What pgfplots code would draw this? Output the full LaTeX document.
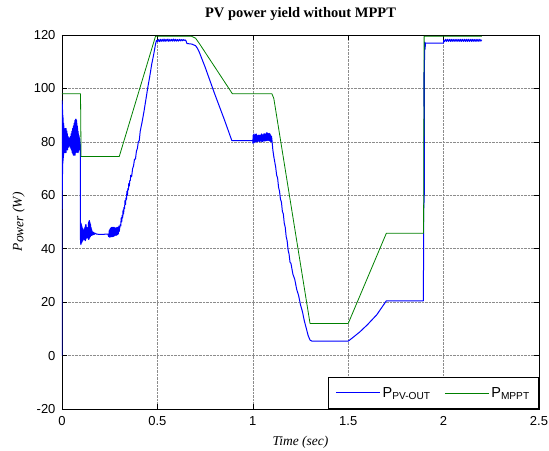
\documentclass[border=0pt]{standalone}
\usepackage{fontspec}
\setmainfont{Liberation Serif}
\newfontfamily\arial{Liberation Sans}
\usepackage{pgfplots}
\pgfplotsset{compat=1.18}
\definecolor{mgreen}{rgb}{0,0.5,0}
\begin{document}
\begin{tikzpicture}
\useasboundingbox (-62bp,-42bp) rectangle (487bp,409bp);
\begin{axis}[
  scale only axis,
  width=477bp, height=374bp,
  xmin=0, xmax=2.5, ymin=-20, ymax=120,
  xtick={0,0.5,1,1.5,2,2.5},
  ytick={-20,0,20,40,60,80,100,120},
  xticklabels={0,0.5,1,1.5,2,2.5},
  tick align=inside,
  major tick length=5bp,
  tick style={black, line width=0.5bp},
  axis line style={black, line width=0.6bp},
  grid=major,
  major grid style={densely dotted, black!45, line width=0.6bp},
  /pgf/number format/assume math mode=true,
  tick label style={font=\fontsize{13bp}{15bp}\arial},
  yticklabel style={xshift=-3bp},
  xticklabel style={yshift=-4bp},
  title={\textbf{PV power yield without MPPT}},
  title style={font=\fontsize{14.5bp}{16bp}\selectfont, at={(axis description cs:0.5,1.032)}, anchor=base},
  xlabel={\textit{Time (sec)}},
  xlabel style={font=\fontsize{13.5bp}{15bp}\selectfont, at={(axis description cs:0.5,-0.0963)}, anchor=base},
  ylabel={\textit{P\kern0.6bp\raisebox{-1.5bp}{ower} (W)}},
  ylabel style={font=\fontsize{13.5bp}{15bp}\selectfont, at={(axis description cs:-0.0839,0.5)}, anchor=base},
  legend columns=2,
  legend cell align=left,
  legend image code/.code={\draw[#1] (0bp,0bp) -- (44bp,0bp);},
  legend style={at={(rel axis cs:1,0)}, anchor=south east, draw=black, fill=white,
    font=\fontsize{14.5bp}{16bp}\arial, line width=0.6bp, inner xsep=7bp, inner ysep=8bp,
    /tikz/every even column/.append style={column sep=12bp}},
]
\addplot[blue, line width=1bp, line join=round] coordinates {
(0,0) (0,95.5) (0.0008,55) (0.0015,94) (0.0022,62) (0.003,92) (0.0038,68) (0.0045,90)
(0.0052,72) (0.006,89) (0.007,74) (0.008,87) (0.009,75) (0.010,86) (0.011,77) (0.012,85)
(0.013,76) (0.014,84) (0.015,78) (0.016,83) (0.017,76) (0.018,85) (0.019,77) (0.020,84)
(0.021,76) (0.022,85) (0.023,77) (0.024,84) (0.025,78) (0.026,84) (0.027,77) (0.028,83)
(0.029,77) (0.030,82) (0.031,78) (0.032,82) (0.033,78) (0.034,81) (0.035,78) (0.036,81.5)
(0.037,78.5) (0.038,81.5) (0.039,79) (0.040,81) (0.041,78.5) (0.042,81) (0.043,78) (0.044,82)
(0.045,78) (0.046,82) (0.047,77.5) (0.048,83) (0.049,77) (0.050,83) (0.051,77) (0.052,84)
(0.053,76) (0.054,84) (0.055,76) (0.056,85) (0.057,75.5) (0.058,85) (0.059,75) (0.060,86)
(0.061,75) (0.062,86) (0.063,75.5) (0.064,87) (0.065,75) (0.066,87) (0.067,75) (0.068,88)
(0.069,75) (0.070,88) (0.071,76) (0.072,88.5) (0.073,76) (0.074,88.5) (0.075,77) (0.076,88)
(0.077,76.5) (0.078,87) (0.079,76) (0.080,86) (0.081,76.5) (0.082,85) (0.083,77) (0.084,84)
(0.085,76) (0.086,83) (0.087,76.5) (0.088,82.5) (0.089,77) (0.090,82) (0.091,77) (0.092,81.5)
(0.093,77.5) (0.094,81) (0.095,78) (0.096,79)
(0.097,42) (0.098,50) (0.099,41.5) (0.100,49.5) (0.101,42) (0.102,49) (0.103,42.5) (0.104,48.5)
(0.105,42.5) (0.106,48) (0.107,43) (0.108,47.5) (0.109,43) (0.110,47.5) (0.111,43.5) (0.112,47)
(0.113,43.5) (0.114,47) (0.115,44) (0.116,47) (0.117,43.5) (0.118,47.5) (0.119,43.5) (0.120,48)
(0.121,43) (0.122,48.5) (0.123,43) (0.124,49) (0.125,43.5) (0.126,49) (0.127,44) (0.128,48)
(0.129,44) (0.130,48) (0.131,44.5) (0.132,47.5) (0.133,44.5) (0.134,47) (0.135,44) (0.136,48)
(0.137,44) (0.138,49.5) (0.139,43.5) (0.140,50) (0.141,43.5) (0.142,50.5) (0.143,44) (0.144,50.5)
(0.145,44) (0.146,50) (0.147,44.5) (0.148,49.5) (0.149,44.5) (0.150,49) (0.151,45) (0.152,48)
(0.153,45) (0.154,47.5) (0.155,45) (0.156,47) (0.157,45) (0.158,46.5) (0.159,45.2) (0.160,46.3)
(0.162,45.2) (0.164,46.2) (0.166,45.3) (0.168,46) (0.170,45.4) (0.175,45.8) (0.18,45.5)
(0.19,45.4) (0.2,45.4) (0.22,45.4) (0.24,45.5)
(0.245,44.5) (0.248,47) (0.25,44.3) (0.253,47.5) (0.255,44.4) (0.258,48) (0.26,44.5) (0.263,48)
(0.265,44.5) (0.268,48) (0.27,44.6) (0.273,48) (0.275,44.8) (0.278,47.8) (0.28,45) (0.283,47.8)
(0.285,45) (0.288,48) (0.29,45.2) (0.293,48) (0.295,45.5) (0.298,48.5) (0.3,46.5)
(0.305,49) (0.308,48.5) (0.31,51.5) (0.313,50) (0.315,52.5) (0.318,51.5) (0.32,54.5) (0.323,53)
(0.325,55.5) (0.328,55) (0.33,58) (0.333,56.5) (0.335,59) (0.338,58.5) (0.34,61.5) (0.343,60)
(0.345,62.5) (0.348,62) (0.35,64.5) (0.353,63.5) (0.355,65.5) (0.358,65.5) (0.36,67.5)
(0.365,67) (0.37,70) (0.375,71) (0.38,73.5) (0.385,73.5) (0.39,76.5) (0.395,77.5)
(0.40,80) (0.405,80.5) (0.41,84) (0.42,87.5) (0.43,91.5) (0.44,96) (0.45,100.5)
(0.46,104.5) (0.47,109) (0.48,112.5) (0.49,116.5) (0.495,118)
(0.5,117.5) (0.505,118.3) (0.51,117.5) (0.515,118.4) (0.52,117.6) (0.525,118.4) (0.53,117.6)
(0.535,118.5) (0.54,117.6) (0.545,118.4) (0.55,117.7) (0.555,118.5) (0.56,117.6) (0.565,118.4)
(0.57,117.7) (0.575,118.4) (0.58,117.7) (0.585,118.5) (0.59,117.7) (0.595,118.4) (0.60,117.7)
(0.605,118.3) (0.61,117.7) (0.615,118.4) (0.62,117.8) (0.625,118.3) (0.63,117.8) (0.635,118.3)
(0.64,117.9) (0.645,118.2) (0.65,117.8) (0.655,116.8) (0.68,116.6) (0.70,116) (0.71,115)
(0.72,113.5) (0.75,108) (0.80,98) (0.85,88.5) (0.89,80.5) (1.0,80.5)
(1.0,79.5) (1.002,82.5) (1.004,79.5) (1.006,83) (1.008,80) (1.010,82.5) (1.012,79.8) (1.014,82.8)
(1.016,80) (1.018,83) (1.020,80) (1.022,82.5) (1.024,80) (1.026,82.2) (1.028,80.3) (1.030,82.5)
(1.032,80.2) (1.034,82.5) (1.036,80) (1.038,82.3) (1.040,80.3) (1.042,82.6) (1.044,80.4) (1.046,83)
(1.048,80) (1.050,82.7) (1.052,80.2) (1.054,82.6) (1.056,80.4) (1.058,83) (1.060,80.3) (1.062,83)
(1.064,80.5) (1.066,82.7) (1.068,80.4) (1.070,83.2) (1.072,80.5) (1.074,83.5) (1.076,80.5)
(1.078,83.2) (1.080,80.6) (1.082,83) (1.084,80.5) (1.086,83.2) (1.088,80.3) (1.090,83)
(1.092,80.2) (1.094,82.5) (1.096,80) (1.098,82) (1.1,81)
(1.105,77) (1.11,74.5) (1.115,72.5) (1.12,70.5) (1.125,67.5) (1.13,66.5) (1.135,63) (1.14,61.5)
(1.145,58.5) (1.15,57.5) (1.155,54) (1.16,53) (1.165,49.5) (1.17,48) (1.175,44.5) (1.18,43)
(1.185,39.5) (1.19,38) (1.195,35) (1.2,34.5) (1.21,30.5) (1.22,28.5) (1.23,24.8) (1.24,22.5)
(1.25,19) (1.26,16.5) (1.27,13) (1.28,10.3) (1.29,7.5) (1.30,5.8) (1.31,5.4)
(1.5,5.4) (1.52,6.5) (1.56,8.8) (1.6,11.5) (1.65,15.3) (1.7,20.5) (1.894,20.5)
(1.896,56) (1.898,58) (1.897,106) (1.899,60) (1.9,117.3) (1.902,117.3) (1.903,114.7)
(1.905,117) (2.0,117) (2.0,118)
(2.005,117.6) (2.01,118.4) (2.015,117.6) (2.02,118.4) (2.025,117.6) (2.03,118.4) (2.035,117.6)
(2.04,118.4) (2.045,117.6) (2.05,118.4) (2.055,117.6) (2.06,118.4) (2.065,117.6) (2.07,118.4)
(2.075,117.6) (2.08,118.4) (2.085,117.6) (2.09,118.4) (2.095,117.6) (2.10,118.4) (2.105,117.6)
(2.11,118.4) (2.115,117.6) (2.12,118.4) (2.125,117.6) (2.13,118.4) (2.135,117.6) (2.14,118.4)
(2.145,117.6) (2.15,118.4) (2.155,117.6) (2.16,118.4) (2.165,117.6) (2.17,118.4) (2.175,117.6)
(2.18,118.4) (2.185,117.6) (2.19,118.4) (2.195,117.7) (2.2,118.2)
};
\addlegendentry{P\textsubscript{PV-OUT}}
\addplot[mgreen, line width=0.8bp, line join=round] coordinates {
(0,98) (0.097,98) (0.1,74.5) (0.3,74.5) (0.49,119.5) (0.68,119.5) (0.70,118.8) (0.72,116.8)
(0.893,98) (1.1,98) (1.11,96.3) (1.3,12) (1.5,12) (1.7,45.8) (1.895,45.8) (1.898,119.5)
(2.2,119.5)
};
\addlegendentry{P\textsubscript{MPPT}}
\end{axis}
\end{tikzpicture}
\end{document}
